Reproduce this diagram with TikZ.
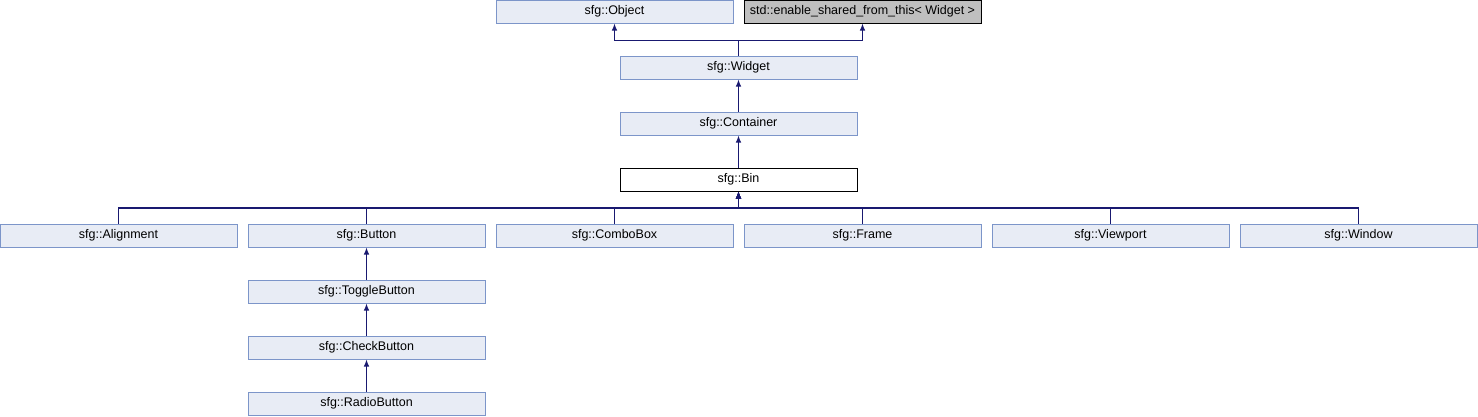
\documentclass[tikz,border=0pt]{standalone}
\usepackage{fontspec}
\setmainfont{Liberation Sans}
\usetikzlibrary{arrows.meta}
\definecolor{boxfill}{RGB}{232,236,245}
\definecolor{boxline}{RGB}{124,149,201}
\definecolor{edge}{RGB}{25,25,112}
\definecolor{extfill}{RGB}{191,191,191}
\begin{document}
\begin{tikzpicture}[x=1pt,y=-1pt,
  cls/.style={draw=boxline,fill=boxfill,line width=1pt,minimum width=237pt,minimum height=23pt,inner sep=0pt,font=\fontsize{12.5}{14}\selectfont},
  focus/.style={cls,draw=black,fill=white},
  ext/.style={cls,draw=black,fill=extfill},
  inh/.style={draw=edge,line width=1.1pt,-{Latex[length=7pt,width=5.5pt]}}]
\useasboundingbox (0,0) rectangle (1478,416);
\node[cls]   (object) at (614.5,11.5) {sfg::Object};
\node[ext]   (esft)   at (862.5,11.5) {std::enable\_shared\_from\_this< Widget >};
\node[cls]   (widget) at (738.5,67.5) {sfg::Widget};
\node[cls]   (container) at (738.5,123.5) {sfg::Container};
\node[focus] (bin)    at (738.5,179.5) {sfg::Bin};
\node[cls] (alignment) at (118.5,235.5) {sfg::Alignment};
\node[cls] (button)    at (366.5,235.5) {sfg::Button};
\node[cls] (combobox)  at (614.5,235.5) {sfg::ComboBox};
\node[cls] (frame)     at (862.5,235.5) {sfg::Frame};
\node[cls] (viewport)  at (1110.5,235.5) {sfg::Viewport};
\node[cls] (window)    at (1358.5,235.5) {sfg::Window};
\node[cls] (toggle)    at (366.5,291.5) {sfg::ToggleButton};
\node[cls] (check)     at (366.5,347.5) {sfg::CheckButton};
\node[cls] (radio)     at (366.5,403.5) {sfg::RadioButton};
\coordinate (top) at (738.5,40.5);
\coordinate (bus) at (738.5,208);
\draw[inh] (widget.north) -- (top) -| (object.south);
\draw[inh] (widget.north) -- (top) -| (esft.south);
\draw[inh] (container.north) -- (widget.south);
\draw[inh] (bin.north) -- (container.south);
\foreach \c in {alignment,button,combobox,frame,viewport,window}
  \draw[inh] (\c.north) |- (bus) -- (bin.south);
\draw[inh] (toggle.north) -- (button.south);
\draw[inh] (check.north) -- (toggle.south);
\draw[inh] (radio.north) -- (check.south);
\end{tikzpicture}
\end{document}
